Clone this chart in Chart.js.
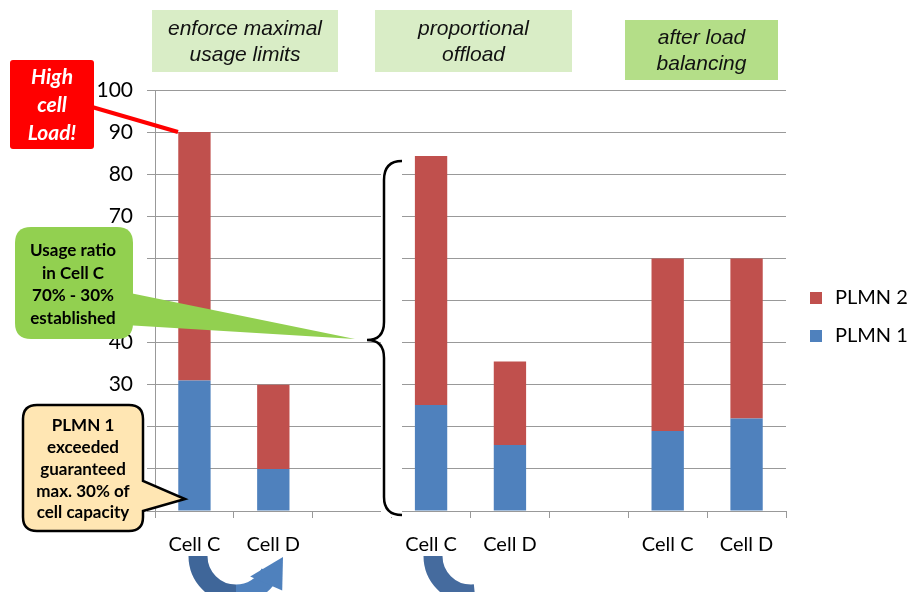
<!DOCTYPE html>
<html>
<head>
<meta charset="utf-8">
<script src="https://cdn.jsdelivr.net/npm/chart.js@4.4.1/dist/chart.umd.min.js"></script>
<style>
html, body { margin: 0; padding: 0; background: #fff; }
</style>
</head>
<body>
<canvas id="chartCarga" width="908" height="592"></canvas>
<script>
// datos
const categorias = ['Cell C', 'Cell D', '', 'Cell C', 'Cell D', '', 'Cell C', 'Cell D'];
const plmn1 = [31, 10, null, 25.2, 15.7, null, 19, 22];
const plmn2 = [59, 20, null, 59.1, 19.8, null, 41, 38];
const nombresSeries = ['PLMN 1', 'PLMN 2'];
const coloresSeries = ['#4F81BD', '#C0504D'];
const ticksY = [0, 10, 20, 30, 40, 50, 60, 70, 80, 90, 100];
const titulos = [
    ['enforce maximal', 'usage limits'],
    ['proportional', 'offload'],
    ['after load', 'balancing']
];

const canvas = document.getElementById('chartCarga');
const ctx = canvas.getContext('2d');

const fuente = 'Lato, "Open Sans", sans-serif';

const roundRect = (c, x, y, w, h, r) => {
    c.beginPath();
    c.moveTo(x + r, y);
    c.lineTo(x + w - r, y);
    c.quadraticCurveTo(x + w, y, x + w, y + r);
    c.lineTo(x + w, y + h - r);
    c.quadraticCurveTo(x + w, y + h, x + w - r, y + h);
    c.lineTo(x + r, y + h);
    c.quadraticCurveTo(x, y + h, x, y + h - r);
    c.lineTo(x, y + r);
    c.quadraticCurveTo(x, y, x + r, y);
    c.closePath();
}

const textoLineas = (c, lineas, cx, y0, alto) => {
    lineas.forEach((l, i) => c.fillText(l, cx, y0 + i * alto));
}

const extras = {
    id: 'extras',
    afterDraw(chart) {
        const c = chart.ctx;
        c.save();

        // cajas de titulo
        const cajas = [
            { x: 152, y: 10, w: 186, h: 62, fill: '#D9EDC6', ty: 29 },
            { x: 375, y: 10, w: 197, h: 62, fill: '#D9EDC6', ty: 29 },
            { x: 625, y: 20, w: 153, h: 60, fill: '#B4DE88', ty: 38 }
        ];
        c.font = 'italic 21px "Liberation Sans", Arial, sans-serif';
        c.textAlign = 'center';
        c.textBaseline = 'middle';
        cajas.forEach((b, i) => {
            c.fillStyle = b.fill;
            c.fillRect(b.x, b.y, b.w, b.h);
            c.fillStyle = '#111';
            textoLineas(c, titulos[i], b.x + b.w / 2, b.ty, 26);
        });

        // llave
        c.fillStyle = '#fff';
        c.fillRect(381, 157, 21, 360);
        c.strokeStyle = '#000';
        c.lineWidth = 2.5;
        c.beginPath();
        c.moveTo(402, 161);
        c.quadraticCurveTo(384, 161, 384, 180);
        c.lineTo(384, 322);
        c.quadraticCurveTo(384, 340, 367, 340);
        c.quadraticCurveTo(384, 340, 384, 358);
        c.lineTo(384, 497);
        c.quadraticCurveTo(384, 515, 402, 515);
        c.stroke();

        // caja roja
        c.strokeStyle = '#FF0000';
        c.lineWidth = 4;
        c.beginPath();
        c.moveTo(92, 107);
        c.lineTo(178, 132);
        c.stroke();
        c.fillStyle = '#FF0000';
        roundRect(c, 10, 60, 84, 89, 3);
        c.fill();
        c.fillStyle = '#fff';
        c.font = 'italic bold 21px ' + fuente;
        textoLineas(c, ['High', 'cell', 'Load!'], 52, 77, 28);

        // globo verde
        c.fillStyle = '#92D050';
        c.beginPath();
        c.moveTo(125, 292);
        c.lineTo(355, 339);
        c.lineTo(125, 325);
        c.closePath();
        c.fill();
        roundRect(c, 15, 227, 118, 112, 16);
        c.fill();
        c.fillStyle = '#000';
        c.font = 'bold 17px ' + fuente;
        textoLineas(c, ['Usage ratio', 'in Cell C', '70% - 30%', 'established'], 73, 251, 22.5);

        // globo amarillo
        c.fillStyle = '#FFE6B3';
        c.strokeStyle = '#000';
        c.lineWidth = 2.5;
        const x0 = 23, y0 = 405, x1 = 143, y1 = 531, r = 14;
        c.beginPath();
        c.moveTo(x0 + r, y0);
        c.lineTo(x1 - r, y0);
        c.quadraticCurveTo(x1, y0, x1, y0 + r);
        c.lineTo(x1, 481);
        c.lineTo(185, 499);
        c.lineTo(x1, 511);
        c.lineTo(x1, y1 - r);
        c.quadraticCurveTo(x1, y1, x1 - r, y1);
        c.lineTo(x0 + r, y1);
        c.quadraticCurveTo(x0, y1, x0, y1 - r);
        c.lineTo(x0, y0 + r);
        c.quadraticCurveTo(x0, y0, x0 + r, y0);
        c.closePath();
        c.fill();
        c.stroke();
        c.fillStyle = '#000';
        c.font = 'bold 17px ' + fuente;
        textoLineas(c, ['PLMN 1', 'exceeded', 'guaranteed', 'max. 30% of', 'cell capacity'], 83, 426, 21.7);

        // flechas
        c.lineWidth = 19;
        c.lineCap = 'butt';
        c.strokeStyle = '#3F6699';
        c.beginPath();
        c.arc(236, 556, 38, Math.PI, Math.PI / 2, true);
        c.stroke();
        c.strokeStyle = '#4F81BD';
        c.beginPath();
        c.arc(236, 556, 38, Math.PI / 2, 0.45, true);
        c.stroke();
        // punta
        const ang = 0.45;
        const px = 236 + 38 * Math.cos(ang), py = 556 + 38 * Math.sin(ang);
        c.fillStyle = '#4F81BD';
        c.beginPath();
        c.moveTo(px - 20, py + 4);
        c.lineTo(283, 557);
        c.lineTo(px + 12, py + 18);
        c.closePath();
        c.fill();

        c.strokeStyle = '#456B9E';
        c.beginPath();
        c.arc(471, 556, 38, Math.PI, Math.PI / 2 - 0.1, true);
        c.stroke();

        // leyenda
        c.font = '20px ' + fuente;
        c.textAlign = 'left';
        c.textBaseline = 'middle';
        const ds = chart.data.datasets;
        [1, 0].forEach((k, i) => {
            const yy = 298 + i * 38;
            c.fillStyle = ds[k].backgroundColor;
            c.fillRect(810, yy - 6, 12, 12);
            c.fillStyle = '#000';
            c.fillText(ds[k].label, 835, yy);
        });

        c.restore();
    }
}

const chartCarga = new Chart(ctx, {
    type: 'bar',
    data: {
        labels: categorias,
        datasets: [{
            label: nombresSeries[0],
            data: plmn1,
            backgroundColor: coloresSeries[0],
            categoryPercentage: 1,
            barPercentage: 0.41
        }, {
            label: nombresSeries[1],
            data: plmn2,
            backgroundColor: coloresSeries[1],
            categoryPercentage: 1,
            barPercentage: 0.41
        }]
    },
    options: {
        responsive: false,
        animation: false,
        layout: { padding: { left: 0, right: 122, top: 90, bottom: 0 } },
        plugins: {
            legend: { display: false },
            tooltip: { enabled: false }
        },
        scales: {
            x: {
                stacked: true,
                grid: { offset: true, drawOnChartArea: false, tickLength: 7, color: '#999' },
                border: { color: '#999' },
                ticks: { color: '#000', font: { family: fuente, size: 20 }, padding: 15, maxRotation: 0 },
                afterFit: (s) => { s.height = 81; }
            },
            y: {
                stacked: true,
                min: 0,
                max: 100,
                afterBuildTicks: (s) => { s.ticks = ticksY.map(v => ({ value: v })); },
                grid: { color: '#999', tickLength: 8 },
                border: { color: '#999' },
                ticks: { color: '#000', font: { family: fuente, size: 21 }, padding: 14 },
                afterFit: (s) => { s.width = 155; }
            }
        }
    },
    plugins: [extras]
})
</script>
</body>
</html>
